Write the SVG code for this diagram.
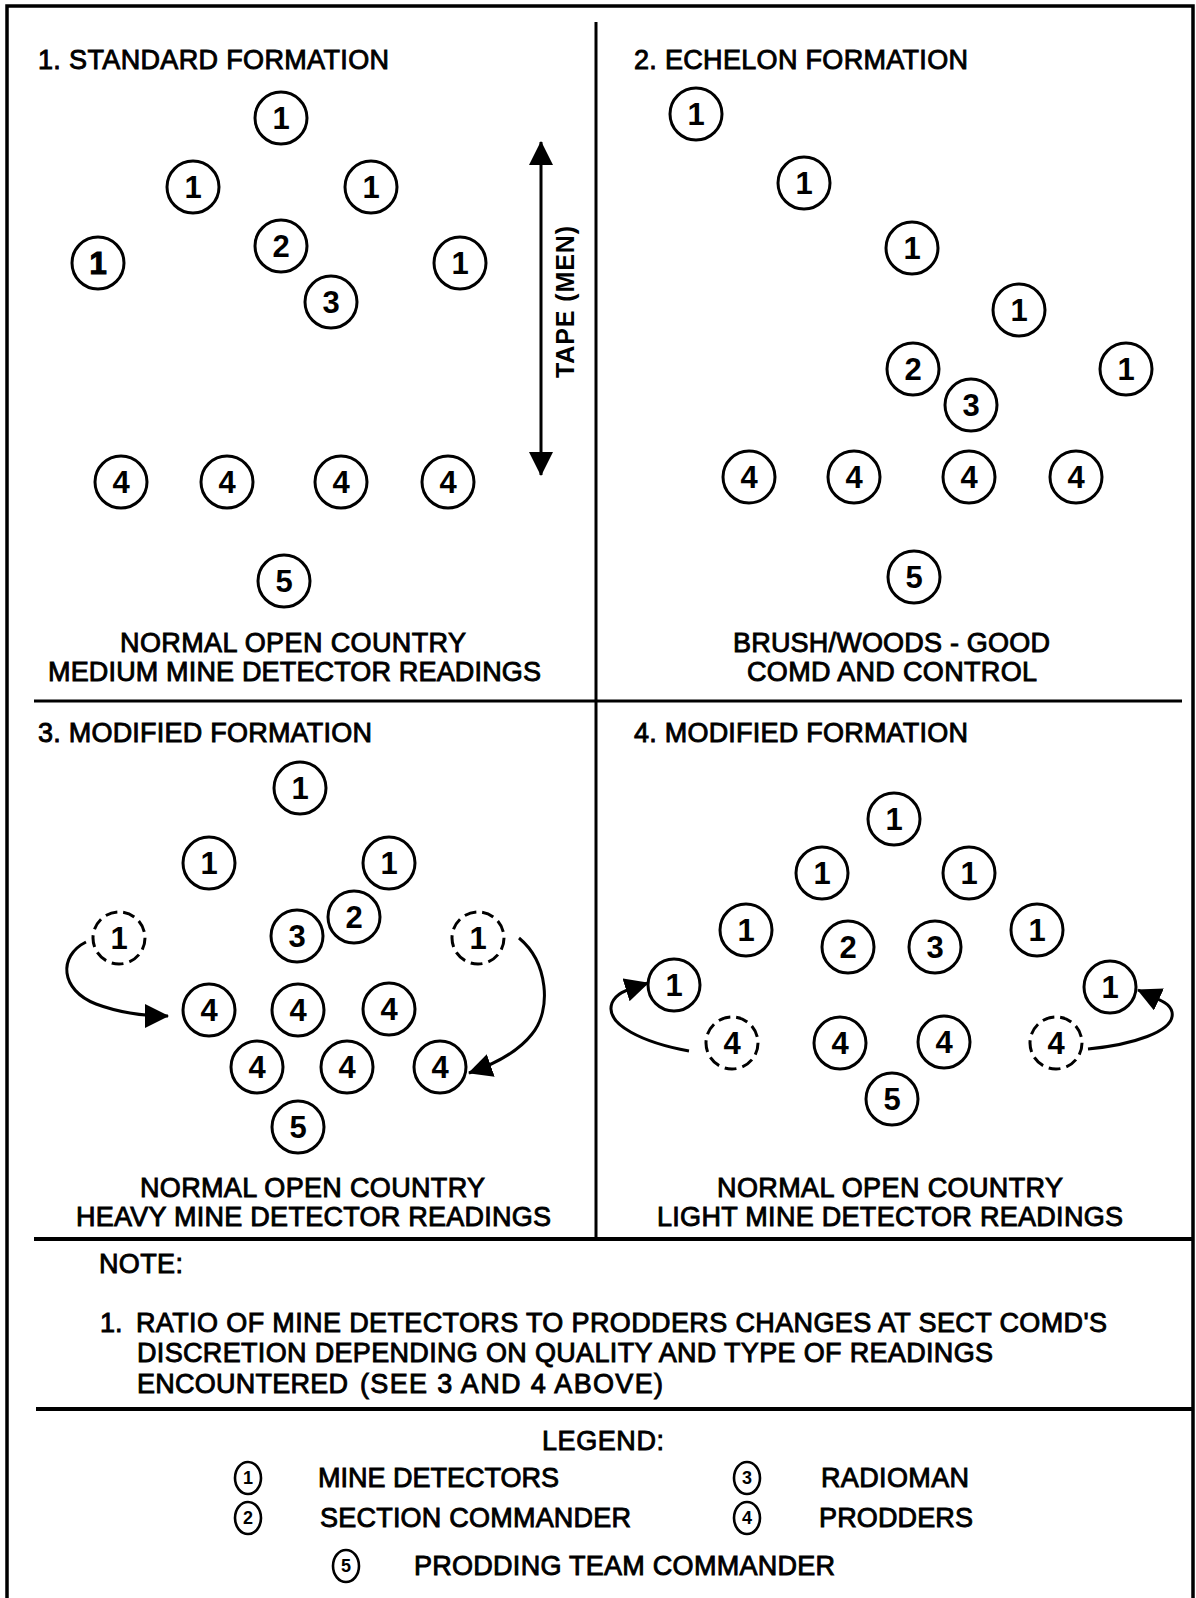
<svg xmlns="http://www.w3.org/2000/svg" width="1196" height="1598" viewBox="0 0 1196 1598">
<style>
  .bg{fill:#ffffff}
  .frame{fill:none;stroke:#000;stroke-width:3.5}
  .rule{fill:none;stroke:#000;stroke-width:3}
  .rule4{fill:none;stroke:#000;stroke-width:4}
  .node circle{fill:#fff;stroke:#000;stroke-width:3}
  .node.dash circle{stroke-dasharray:12 6}
  .node text{font-family:"Liberation Sans",Arial,sans-serif;font-weight:bold;font-size:31px;text-anchor:middle;fill:#000}
  .node.heavy text{stroke:#000;stroke-width:1.2}
  .lg ellipse{fill:#fff;stroke:#000;stroke-width:2.6}
  .lg text.d{font-family:"Liberation Sans",Arial,sans-serif;font-weight:bold;font-size:18px;text-anchor:middle}
  .t{font-family:"Liberation Sans",Arial,sans-serif;font-size:27px;fill:#000;stroke:#000;stroke-width:0.9}
  .tb{font-family:"Liberation Sans",Arial,sans-serif;font-weight:bold;font-size:25px;fill:#000}
  .conn path{fill:none;stroke:#000;stroke-width:3}
</style>
<defs>
  <marker id="ah2" markerWidth="24" markerHeight="24" refX="23" refY="12" orient="auto-start-reverse" markerUnits="userSpaceOnUse" viewBox="0 0 24 24">
    <path d="M0,0 L24,12 L0,24 Z" fill="#000"/>
  </marker>
</defs>
<rect class="bg" x="0" y="0" width="1196" height="1598"/>

<!-- frame and dividers -->
<g id="frame">
  <path class="frame" d="M7,1600 V6 H1193 V1600"/>
  <path class="rule" d="M596,22 V1239"/>
  <path class="rule" d="M34,701 H1182"/>
  <path class="rule4" d="M34,1239 H1193"/>
  <path class="rule4" d="M36,1409 H1193"/>
</g>

<!-- titles and captions -->
<g id="labels">
  <text class="t" x="38" y="69" textLength="351">1. STANDARD FORMATION</text>
  <text class="t" x="634" y="69" textLength="334">2. ECHELON FORMATION</text>
  <text class="t" x="38" y="742" textLength="334">3. MODIFIED FORMATION</text>
  <text class="t" x="634" y="742" textLength="334">4. MODIFIED FORMATION</text>

  <text class="t" x="120" y="652" textLength="346">NORMAL OPEN COUNTRY</text>
  <text class="t" x="48" y="681" textLength="493">MEDIUM MINE DETECTOR READINGS</text>
  <text class="t" x="733" y="652" textLength="317">BRUSH/WOODS - GOOD</text>
  <text class="t" x="747" y="681" textLength="290">COMD AND CONTROL</text>
  <text class="t" x="140" y="1197" textLength="345">NORMAL OPEN COUNTRY</text>
  <text class="t" x="76" y="1226" textLength="475">HEAVY MINE DETECTOR READINGS</text>
  <text class="t" x="717" y="1197" textLength="346">NORMAL OPEN COUNTRY</text>
  <text class="t" x="657" y="1226" textLength="466">LIGHT MINE DETECTOR READINGS</text>

  <text class="tb" transform="translate(565,302) rotate(-90)" x="-76" y="9" textLength="152">TAPE (MEN)</text>

  <text class="t" x="99" y="1273" textLength="84">NOTE:</text>
  <text class="t" x="100" y="1332">1.</text>
  <text class="t" x="136" y="1332" textLength="971">RATIO OF MINE DETECTORS TO PRODDERS CHANGES AT SECT COMD'S</text>
  <text class="t" x="137" y="1362" textLength="856">DISCRETION DEPENDING ON QUALITY AND TYPE OF READINGS</text>
  <text class="t" x="137" y="1393" textLength="211">ENCOUNTERED</text>
  <text class="t" x="360" y="1393" textLength="303">(SEE 3 AND 4 ABOVE)</text>

  <text class="t" x="542" y="1450" textLength="122">LEGEND:</text>
  <text class="t" x="318" y="1487" textLength="241">MINE DETECTORS</text>
  <text class="t" x="320" y="1527" textLength="311">SECTION COMMANDER</text>
  <text class="t" x="821" y="1487" textLength="148">RADIOMAN</text>
  <text class="t" x="819" y="1527" textLength="154">PRODDERS</text>
  <text class="t" x="414" y="1575" textLength="421">PRODDING TEAM COMMANDER</text>
</g>

<!-- connectors -->
<g id="connectors" class="conn">
  <path id="tape-arrow" d="M541,142 V475" stroke-width="4" marker-start="url(#ah2)" marker-end="url(#ah2)"/>
  <path id="p3-left" d="M86,942 C58,956 60,990 96,1004 C120,1013 145,1016 168,1016" marker-end="url(#ah2)"/>
  <path id="p3-right" d="M519,938 C548,962 552,1010 532,1034 C518,1052 495,1064 469,1073" marker-end="url(#ah2)"/>
  <path id="p4-left" d="M689,1051 C645,1043 604,1025 612,1003 C616,994 622,991 648,983" marker-end="url(#ah2)"/>
  <path id="p4-right" d="M1088,1049 C1130,1045 1176,1032 1172,1012 C1170,1003 1160,1000 1138,990" marker-end="url(#ah2)"/>
</g>

<!-- panel 1 -->
<g id="p1-1a" class="node"><circle cx="281" cy="118" r="26"/><text x="281" y="129">1</text></g>
<g id="p1-1b" class="node"><circle cx="193" cy="187" r="26"/><text x="193" y="198">1</text></g>
<g id="p1-1c" class="node"><circle cx="371" cy="187" r="26"/><text x="371" y="198">1</text></g>
<g id="p1-1d" class="node heavy"><circle cx="98" cy="263" r="26"/><text x="98" y="274">1</text></g>
<g id="p1-2" class="node"><circle cx="281" cy="246" r="26"/><text x="281" y="257">2</text></g>
<g id="p1-1e" class="node"><circle cx="460" cy="263" r="26"/><text x="460" y="274">1</text></g>
<g id="p1-3" class="node"><circle cx="331" cy="302" r="26"/><text x="331" y="313">3</text></g>
<g id="p1-4a" class="node"><circle cx="121" cy="482" r="26"/><text x="121" y="493">4</text></g>
<g id="p1-4b" class="node"><circle cx="227" cy="482" r="26"/><text x="227" y="493">4</text></g>
<g id="p1-4c" class="node"><circle cx="341" cy="482" r="26"/><text x="341" y="493">4</text></g>
<g id="p1-4d" class="node"><circle cx="448" cy="482" r="26"/><text x="448" y="493">4</text></g>
<g id="p1-5" class="node"><circle cx="284" cy="581" r="26"/><text x="284" y="592">5</text></g>

<!-- panel 2 -->
<g id="p2-1a" class="node"><circle cx="696" cy="114" r="26"/><text x="696" y="125">1</text></g>
<g id="p2-1b" class="node"><circle cx="804" cy="183" r="26"/><text x="804" y="194">1</text></g>
<g id="p2-1c" class="node"><circle cx="912" cy="248" r="26"/><text x="912" y="259">1</text></g>
<g id="p2-1d" class="node"><circle cx="1019" cy="310" r="26"/><text x="1019" y="321">1</text></g>
<g id="p2-1e" class="node"><circle cx="1126" cy="369" r="26"/><text x="1126" y="380">1</text></g>
<g id="p2-2" class="node"><circle cx="913" cy="369" r="26"/><text x="913" y="380">2</text></g>
<g id="p2-3" class="node"><circle cx="971" cy="405" r="26"/><text x="971" y="416">3</text></g>
<g id="p2-4a" class="node"><circle cx="749" cy="477" r="26"/><text x="749" y="488">4</text></g>
<g id="p2-4b" class="node"><circle cx="854" cy="477" r="26"/><text x="854" y="488">4</text></g>
<g id="p2-4c" class="node"><circle cx="969" cy="477" r="26"/><text x="969" y="488">4</text></g>
<g id="p2-4d" class="node"><circle cx="1076" cy="477" r="26"/><text x="1076" y="488">4</text></g>
<g id="p2-5" class="node"><circle cx="914" cy="577" r="26"/><text x="914" y="588">5</text></g>

<!-- panel 3 -->
<g id="p3-1a" class="node"><circle cx="300" cy="788" r="26"/><text x="300" y="799">1</text></g>
<g id="p3-1b" class="node"><circle cx="209" cy="863" r="26"/><text x="209" y="874">1</text></g>
<g id="p3-1c" class="node"><circle cx="389" cy="863" r="26"/><text x="389" y="874">1</text></g>
<g id="p3-1d" class="node dash"><circle cx="119" cy="938" r="26"/><text x="119" y="949">1</text></g>
<g id="p3-3" class="node"><circle cx="297" cy="936" r="26"/><text x="297" y="947">3</text></g>
<g id="p3-2" class="node"><circle cx="354" cy="917" r="26"/><text x="354" y="928">2</text></g>
<g id="p3-1e" class="node dash"><circle cx="478" cy="938" r="26"/><text x="478" y="949">1</text></g>
<g id="p3-4a" class="node"><circle cx="209" cy="1010" r="26"/><text x="209" y="1021">4</text></g>
<g id="p3-4b" class="node"><circle cx="298" cy="1010" r="26"/><text x="298" y="1021">4</text></g>
<g id="p3-4c" class="node"><circle cx="389" cy="1009" r="26"/><text x="389" y="1020">4</text></g>
<g id="p3-4d" class="node"><circle cx="257" cy="1067" r="26"/><text x="257" y="1078">4</text></g>
<g id="p3-4e" class="node"><circle cx="347" cy="1067" r="26"/><text x="347" y="1078">4</text></g>
<g id="p3-4f" class="node"><circle cx="440" cy="1067" r="26"/><text x="440" y="1078">4</text></g>
<g id="p3-5" class="node"><circle cx="298" cy="1127" r="26"/><text x="298" y="1138">5</text></g>

<!-- panel 4 -->
<g id="p4-1a" class="node"><circle cx="894" cy="819" r="26"/><text x="894" y="830">1</text></g>
<g id="p4-1b" class="node"><circle cx="822" cy="873" r="26"/><text x="822" y="884">1</text></g>
<g id="p4-1c" class="node"><circle cx="969" cy="873" r="26"/><text x="969" y="884">1</text></g>
<g id="p4-1d" class="node"><circle cx="746" cy="930" r="26"/><text x="746" y="941">1</text></g>
<g id="p4-2" class="node"><circle cx="848" cy="947" r="26"/><text x="848" y="958">2</text></g>
<g id="p4-3" class="node"><circle cx="935" cy="947" r="26"/><text x="935" y="958">3</text></g>
<g id="p4-1e" class="node"><circle cx="1037" cy="930" r="26"/><text x="1037" y="941">1</text></g>
<g id="p4-1f" class="node"><circle cx="674" cy="985" r="26"/><text x="674" y="996">1</text></g>
<g id="p4-1g" class="node"><circle cx="1110" cy="987" r="26"/><text x="1110" y="998">1</text></g>
<g id="p4-4a" class="node dash"><circle cx="732" cy="1043" r="26"/><text x="732" y="1054">4</text></g>
<g id="p4-4b" class="node"><circle cx="840" cy="1043" r="26"/><text x="840" y="1054">4</text></g>
<g id="p4-4c" class="node"><circle cx="944" cy="1042" r="26"/><text x="944" y="1053">4</text></g>
<g id="p4-4d" class="node dash"><circle cx="1056" cy="1043" r="26"/><text x="1056" y="1054">4</text></g>
<g id="p4-5" class="node"><circle cx="892" cy="1099" r="26"/><text x="892" y="1110">5</text></g>

<!-- legend symbols -->
<g id="lg-1" class="lg"><ellipse cx="248" cy="1478" rx="13" ry="16"/><text class="d" x="248" y="1484">1</text></g>
<g id="lg-2" class="lg"><ellipse cx="248" cy="1518" rx="13" ry="16"/><text class="d" x="248" y="1524">2</text></g>
<g id="lg-3" class="lg"><ellipse cx="747" cy="1478" rx="13" ry="16"/><text class="d" x="747" y="1484">3</text></g>
<g id="lg-4" class="lg"><ellipse cx="747" cy="1518" rx="13" ry="16"/><text class="d" x="747" y="1524">4</text></g>
<g id="lg-5" class="lg"><ellipse cx="346" cy="1566" rx="13" ry="16"/><text class="d" x="346" y="1572">5</text></g>
</svg>
